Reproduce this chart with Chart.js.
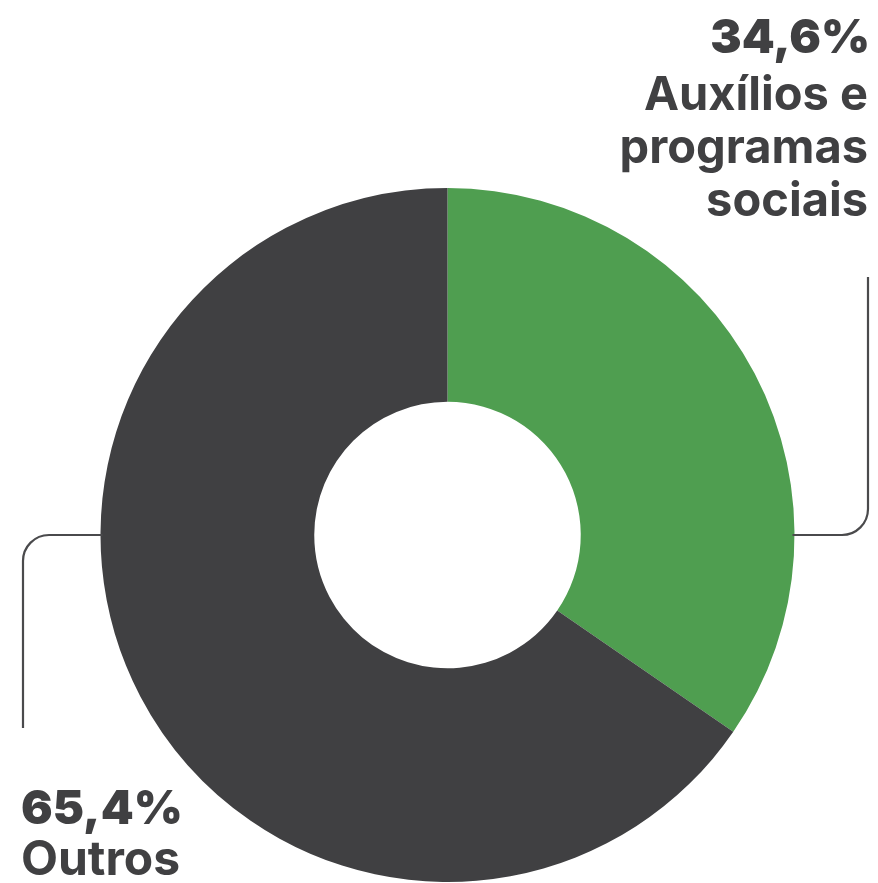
<!DOCTYPE html>
<html>
<head>
<meta charset="utf-8">
<script src="https://cdn.jsdelivr.net/npm/chart.js@4.4.0/dist/chart.umd.min.js"></script>
<style>
  html, body { margin: 0; padding: 0; background: #fff; }
  #wrap { width: 878px; height: 883px; position: relative; }
</style>
</head>
<body>
<div id="wrap"><canvas id="chart-renda"></canvas></div>
<script>
// Dados do gráfico
const categorias = ['Auxílios e programas sociais', 'Outros']
const valores = [34.6, 65.4]
const rotulos = [
  ['Auxílios e', 'programas', 'sociais'],
  ['Outros'],
]
const cores = ['#4f9e50', '#404042']

const corTexto = '#404042'
const corLinha = '#4a4a4c'

function formatarPct(v) {
  return v.toFixed(1).replace('.', ',') + '%'
}

// Plugin para linhas de chamada e rótulos
const rotulosPlugin = {
  id: 'rotulosPlugin',
  afterDraw(chart) {
    const ctx = chart.ctx
    const arc = chart.getDatasetMeta(0).data[0]
    const cx = arc.x, cy = arc.y, r = arc.outerRadius
    const raio = 26

    ctx.save()
    ctx.strokeStyle = corLinha
    ctx.lineWidth = 2.2
    ctx.lineCap = 'butt'

    // linha da direita (Auxílios)
    const xd = 868
    ctx.beginPath()
    ctx.moveTo(cx + r - 2, cy)
    ctx.lineTo(xd - raio, cy)
    ctx.arcTo(xd, cy, xd, cy - raio, raio)
    ctx.lineTo(xd, 277)
    ctx.stroke()

    // linha da esquerda (Outros)
    const xe = 23
    ctx.beginPath()
    ctx.moveTo(cx - r + 2, cy)
    ctx.lineTo(xe + raio, cy)
    ctx.arcTo(xe, cy, xe, cy + raio, raio)
    ctx.lineTo(xe, 728)
    ctx.stroke()

    ctx.fillStyle = corTexto
    ctx.textBaseline = 'alphabetic'

    // rótulo da direita
    ctx.textAlign = 'right'
    ctx.font = '900 47px Inter'
    ctx.fillText(formatarPct(valores[0]), 870, 53)
    ctx.font = '700 47px Inter'
    rotulos[0].forEach((linha, i) => {
      ctx.fillText(linha, 868, 110 + i * 53)
    })

    // rótulo da esquerda
    ctx.textAlign = 'left'
    ctx.font = '900 47px Inter'
    ctx.fillText(formatarPct(valores[1]), 21, 824)
    ctx.font = '700 48px Inter'
    rotulos[1].forEach((linha, i) => {
      ctx.fillText(linha, 21, 875 + i * 53)
    })
    ctx.restore()
  }
}

const config_renda = {
  type: 'doughnut',
  data: {
    labels: categorias,
    datasets: [{
      data: valores,
      backgroundColor: cores,
      borderWidth: 0,
    }]
  },
  options: {
    responsive: true,
    maintainAspectRatio: false,
    animation: false,
    events: [],
    cutout: '38.4%',
    layout: {
      padding: { left: 100, right: 83, top: 188, bottom: 1 }
    },
    plugins: {
      legend: { display: false },
      tooltip: { enabled: false },
    },
  },
  plugins: [rotulosPlugin],
}

const myChart_renda = new Chart(
  document.getElementById('chart-renda'),
  config_renda
)
</script>
</body>
</html>
